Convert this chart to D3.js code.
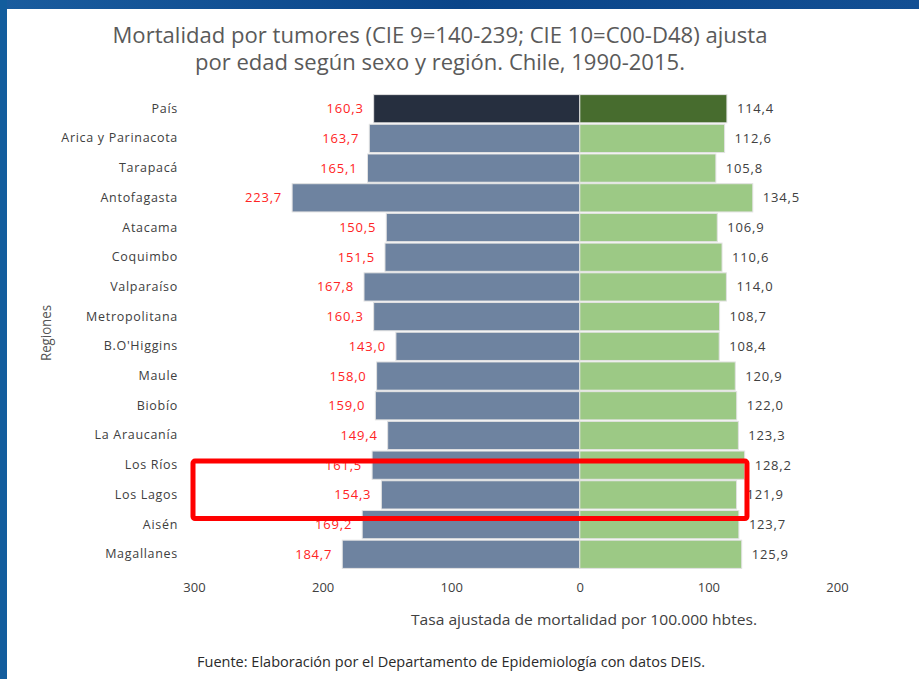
<!DOCTYPE html>
<html>
<head>
<meta charset="utf-8">
<script src="https://cdn.jsdelivr.net/npm/d3@7"></script>
<style>
  body { margin: 0; background: #fff; }
  svg { display: block; }
</style>
</head>
<body>
<svg></svg>
<script>
var regiones = ["País", "Arica y Parinacota", "Tarapacá", "Antofagasta", "Atacama", "Coquimbo",
	"Valparaíso", "Metropolitana", "B.O'Higgins", "Maule", "Biobío", "La Araucanía",
	"Los Ríos", "Los Lagos", "Aisén", "Magallanes"];
var hombres = [160.3, 163.7, 165.1, 223.7, 150.5, 151.5, 167.8, 160.3, 143.0, 158.0, 159.0, 149.4, 161.5, 154.3, 169.2, 184.7];
var mujeres = [114.4, 112.6, 105.8, 134.5, 106.9, 110.6, 114.0, 108.7, 108.4, 120.9, 122.0, 123.3, 128.2, 121.9, 123.7, 125.9];
var ticks = [-300, -200, -100, 0, 100, 200];
var destacadas = ["Los Ríos", "Los Lagos"];

var width = 919, height = 679;
var fmt = function(v) { return v.toFixed(1).replace(".", ","); };

var svg = d3.select("svg")
	.attr("width", width)
	.attr("height", height);

// blue frame of the slide
var grad = svg.append("defs").append("linearGradient").attr("id", "marco");
grad.append("stop").attr("offset", "0%").attr("stop-color", "#1a5c9e");
grad.append("stop").attr("offset", "50%").attr("stop-color", "#0a4589");
grad.append("stop").attr("offset", "100%").attr("stop-color", "#134f93");
svg.append("rect").attr("x", 0).attr("y", 0).attr("width", width).attr("height", 9).attr("fill", "url(#marco)");
svg.append("rect").attr("x", 0).attr("y", 0).attr("width", 7).attr("height", height).attr("fill", "#135d9d");

// title (condensed look: bigger font squeezed to the original width)
var title = svg.append("text")
	.attr("text-anchor", "middle")
	.attr("fill", "#5a5a5a")
	.style("font-family", "'Open Sans', sans-serif")
	.style("font-size", "22px");
title.append("tspan").attr("x", 440).attr("y", 43)
	.attr("textLength", 655).attr("lengthAdjust", "spacingAndGlyphs")
	.text("Mortalidad por tumores (CIE 9=140-239; CIE 10=C00-D48) ajusta");
title.append("tspan").attr("x", 440).attr("y", 70)
	.attr("textLength", 490).attr("lengthAdjust", "spacingAndGlyphs")
	.text("por edad según sexo  y región. Chile, 1990-2015.");

// scales
var x = d3.scaleLinear().domain([-300, 200]).range([194, 837]);
var y = d3.scaleBand().domain(regiones).range([94, 569]).paddingInner(0.05).paddingOuter(0.02);

var g = svg.append("g");

// left bars
g.selectAll("rect.h")
	.data(regiones)
	.enter()
	.append("rect")
	.attr("class", "h")
	.attr("x", function(d, i) { return x(-hombres[i]); })
	.attr("y", function(d) { return y(d); })
	.attr("width", function(d, i) { return x(0) - x(-hombres[i]); })
	.attr("height", y.bandwidth())
	.attr("fill", function(d, i) { return i === 0 ? "#262f3f" : "#6e83a0"; })
	.attr("stroke", "#e2e2e2")
	.attr("stroke-width", 1);

// right bars
g.selectAll("rect.m")
	.data(regiones)
	.enter()
	.append("rect")
	.attr("class", "m")
	.attr("x", x(0))
	.attr("y", function(d) { return y(d); })
	.attr("width", function(d, i) { return x(mujeres[i]) - x(0); })
	.attr("height", y.bandwidth())
	.attr("fill", function(d, i) { return i === 0 ? "#476c2e" : "#9cc985"; })
	.attr("stroke", "#e2e2e2")
	.attr("stroke-width", 1);

// value labels
g.selectAll("text.vh")
	.data(regiones)
	.enter()
	.append("text")
	.attr("class", "vh")
	.attr("x", function(d, i) { return x(-hombres[i]) - 10; })
	.attr("y", function(d) { return y(d) + y.bandwidth() / 2; })
	.attr("dy", "0.35em")
	.attr("text-anchor", "end")
	.attr("fill", "#ff2424")
	.style("font-family", "'Open Sans', sans-serif")
	.style("font-size", "13px")
	.style("letter-spacing", "0.8px")
	.text(function(d, i) { return fmt(hombres[i]); });

g.selectAll("text.vm")
	.data(regiones)
	.enter()
	.append("text")
	.attr("class", "vm")
	.attr("x", function(d, i) { return x(mujeres[i]) + 10; })
	.attr("y", function(d) { return y(d) + y.bandwidth() / 2; })
	.attr("dy", "0.35em")
	.attr("fill", "#404040")
	.style("font-family", "'Open Sans', sans-serif")
	.style("font-size", "13px")
	.style("letter-spacing", "0.8px")
	.text(function(d, i) { return fmt(mujeres[i]); });

// category axis
var yAxis = svg.append("g")
	.attr("transform", "translate(180,0)")
	.call(d3.axisLeft(y).tickSize(0).tickPadding(2));
yAxis.select(".domain").remove();
yAxis.selectAll("text")
	.attr("fill", "#404040")
	.style("font-family", "'Open Sans', sans-serif")
	.style("font-size", "12.5px")
	.style("letter-spacing", "0.7px");

svg.append("text")
	.attr("transform", "translate(51,333) rotate(-90)")
	.attr("text-anchor", "middle")
	.attr("fill", "#555")
	.attr("textLength", 56).attr("lengthAdjust", "spacingAndGlyphs")
	.style("font-family", "'Open Sans', sans-serif")
	.style("font-size", "14px")
	.text("Regiones");

// value axis
var xAxis = svg.append("g")
	.attr("transform", "translate(0,580)")
	.call(d3.axisBottom(x).tickValues(ticks).tickSize(0).tickPadding(3)
		.tickFormat(function(d) { return Math.abs(d); }));
xAxis.select(".domain").remove();
xAxis.selectAll("text")
	.attr("fill", "#404040")
	.style("font-family", "'Open Sans', sans-serif")
	.style("font-size", "13px");

svg.append("text")
	.attr("x", 411)
	.attr("y", 625)
	.attr("textLength", 346).attr("lengthAdjust", "spacingAndGlyphs")
	.attr("fill", "#404040")
	.style("font-family", "'Open Sans', sans-serif")
	.style("font-size", "14.5px")
	.text("Tasa ajustada de mortalidad por 100.000 hbtes.");

svg.append("text")
	.attr("x", 197)
	.attr("y", 667)
	.attr("textLength", 508).attr("lengthAdjust", "spacingAndGlyphs")
	.attr("fill", "#2a2a2a")
	.style("font-family", "'Open Sans', sans-serif")
	.style("font-size", "15px")
	.text("Fuente: Elaboración por el Departamento de Epidemiología con datos DEIS.");

// red highlight box
var y0 = y(destacadas[0]) + 10;
var y1 = y(destacadas[1]) + y.step() + 8;
svg.append("rect")
	.attr("x", x(-300) - 1)
	.attr("y", y0)
	.attr("width", x(130) - x(-300) + 1)
	.attr("height", y1 - y0)
	.attr("rx", 2)
	.attr("fill", "none")
	.attr("stroke", "#ff0000")
	.attr("stroke-width", 5);
</script>
</body>
</html>
